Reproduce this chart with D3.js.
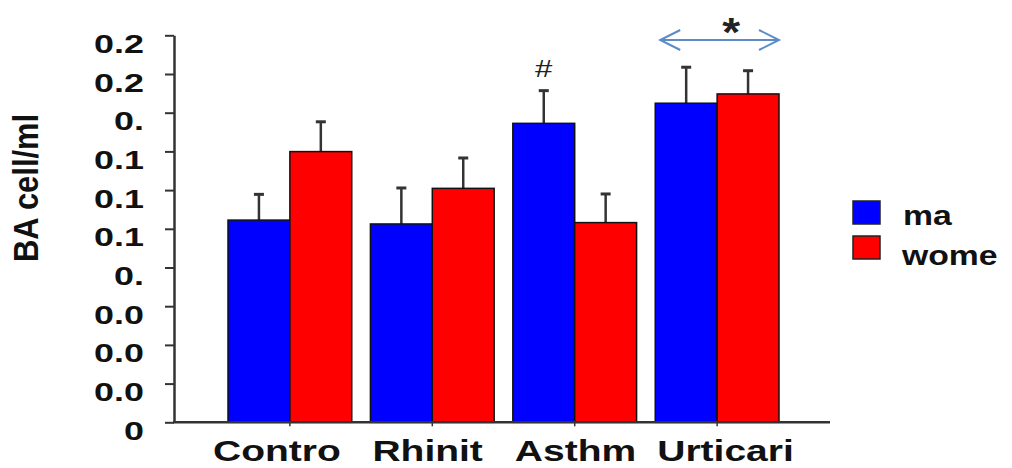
<!DOCTYPE html>
<html>
<head>
<meta charset="utf-8">
<script src="https://cdn.jsdelivr.net/npm/d3@7"></script>
<style>
  body { margin: 0; background: #fff; }
  svg text { font-family: "Liberation Sans", Arial, sans-serif; }
</style>
</head>
<body>
<svg width="1012" height="468"></svg>
<script>
// chart data
var categories = ['Contro', 'Rhinit', 'Asthm', 'Urticari'];
var series = ['ma', 'wome'];
var menValues = [0.1045, 0.1025, 0.1545, 0.1649];
var menErrors = [0.0133, 0.0186, 0.0169, 0.0186];
var womenValues = [0.1399, 0.1209, 0.1032, 0.1697];
var womenErrors = [0.0154, 0.0157, 0.0148, 0.0120];
var yTicks = [0, 0.02, 0.04, 0.06, 0.08, 0.1, 0.12, 0.14, 0.16, 0.18, 0.2];
var yTickLabels = ['0', '0.0', '0.0', '0.0', '0.', '0.1', '0.1', '0.1', '0.', '0.2', '0.2'];
var colors = ['#0000ff', '#ff0000'];

var svg = d3.select('svg');

var y = d3.scaleLinear().domain([0, 0.2]).range([422.3, 35.3]);
var x = d3.scaleBand().domain(categories).range([228, 779]).paddingInner(0.131).paddingOuter(0);
var xi = d3.scaleBand().domain(series).range([0, x.bandwidth()]);

var rows = [];
categories.forEach((c, i) => {
    rows.push({cat: c, s: 'ma', v: menValues[i], e: menErrors[i], k: 0});
    rows.push({cat: c, s: 'wome', v: womenValues[i], e: womenErrors[i], k: 1});
});

// error bars (drawn first so the bar covers the bottom)
var err = svg.append('g').selectAll('g')
    .data(rows)
    .enter().append('g')
    .attr('transform', d => 'translate(' + (x(d.cat) + xi(d.s) + xi.bandwidth() / 2) + ',0)');
err.append('line')
    .attr('y1', d => y(d.v))
    .attr('y2', d => y(d.v + d.e))
    .attr('stroke', '#333')
    .attr('stroke-width', 2.5);
err.append('line')
    .attr('x1', -5).attr('x2', 5)
    .attr('y1', d => y(d.v + d.e))
    .attr('y2', d => y(d.v + d.e))
    .attr('stroke', '#333')
    .attr('stroke-width', 3);

// bars
svg.append('g').selectAll('rect')
    .data(rows)
    .enter().append('rect')
    .attr('x', d => x(d.cat) + xi(d.s))
    .attr('y', d => y(d.v))
    .attr('width', xi.bandwidth())
    .attr('height', d => y(0) - y(d.v))
    .attr('fill', d => colors[d.k])
    .attr('stroke', '#111')
    .attr('stroke-width', 1.5);

// y axis
var yAxis = svg.append('g')
    .attr('transform', 'translate(174,0)')
    .call(d3.axisLeft(y).tickValues(yTicks).tickSize(9).tickSizeOuter(0)
        .tickFormat((d, i) => yTickLabels[i]));
yAxis.select('.domain').attr('stroke', '#333').attr('stroke-width', 2.5);
yAxis.selectAll('.tick line').attr('stroke', '#333').attr('stroke-width', 2);
yAxis.selectAll('.tick text')
    .attr('x', 0).attr('dy', null).attr('y', 17)
    .attr('transform', 'translate(-30,0) scale(1.38,1)')
    .attr('fill', '#111')
    .style('font-size', '26px')
    .style('font-weight', 'bold');

// x axis baseline
svg.append('line')
    .attr('x1', 173).attr('x2', 830)
    .attr('y1', y(0)).attr('y2', y(0))
    .attr('stroke', '#333').attr('stroke-width', 2.5);
svg.append('g').selectAll('line')
    .data(categories)
    .enter().append('line')
    .attr('x1', d => x(d) + x.bandwidth() / 2)
    .attr('x2', d => x(d) + x.bandwidth() / 2)
    .attr('y1', y(0)).attr('y2', y(0) + 4)
    .attr('stroke', '#333').attr('stroke-width', 1.5);
svg.append('g').selectAll('text')
    .data(categories)
    .enter().append('text')
    .attr('transform', (d, i) => 'translate(' + (x(d) + (i === 0 ? -15 : 2)) + ',461) scale(1.3,1)')
    .style('font-size', '30px')
    .style('font-weight', 'bold')
    .attr('fill', '#111')
    .text(d => d);

// y title
svg.append('text')
    .attr('transform', 'translate(38,188) rotate(-90) scale(1.03,1.15)')
    .attr('text-anchor', 'middle')
    .style('font-size', '30px')
    .style('font-weight', 'bold')
    .attr('fill', '#111')
    .text('BA cell/ml');

// markers: # over asthma men, arrow with * over urticaria
var hx = x('Asthm') + xi('ma') + xi.bandwidth() / 2;
svg.append('text')
    .attr('transform', 'translate(' + hx + ',77) scale(1.3,1)')
    .attr('text-anchor', 'middle')
    .style('font-size', '24px')
    .attr('fill', '#222')
    .text('#');

var ax0 = x('Urticari') + 5, ax1 = x('Urticari') + x.bandwidth();
var arrow = svg.append('g')
    .attr('stroke', '#5b8cc8').attr('stroke-width', 2).attr('fill', 'none');
arrow.append('line').attr('x1', ax0).attr('x2', ax1).attr('y1', 40).attr('y2', 40);
arrow.append('path').attr('d', 'M' + (ax0 + 20) + ',30L' + ax0 + ',40L' + (ax0 + 20) + ',50');
arrow.append('path').attr('d', 'M' + (ax1 - 20) + ',30L' + ax1 + ',40L' + (ax1 - 20) + ',50');
svg.append('text')
    .attr('transform', 'translate(' + (x('Urticari') + x.bandwidth() / 2 + 14) + ',46) scale(1.15,1)')
    .attr('text-anchor', 'middle')
    .style('font-size', '40px')
    .style('font-weight', 'bold')
    .attr('fill', '#222')
    .text('*');

// legend
var legend = svg.append('g').selectAll('g')
    .data(series)
    .enter().append('g');
legend.append('rect')
    .attr('x', 853)
    .attr('y', (d, i) => 201 + i * 35)
    .attr('width', 27).attr('height', 23)
    .attr('fill', (d, i) => colors[i])
    .attr('stroke', '#222').attr('stroke-width', 1.5);
legend.append('text')
    .attr('transform', (d, i) => 'translate(' + (903 - i) + ',' + (225 + i * 40) + ') scale(1.25,1)')
    .style('font-size', '27px')
    .style('font-weight', 'bold')
    .attr('fill', '#111')
    .text(d => d);
</script>
</body>
</html>
